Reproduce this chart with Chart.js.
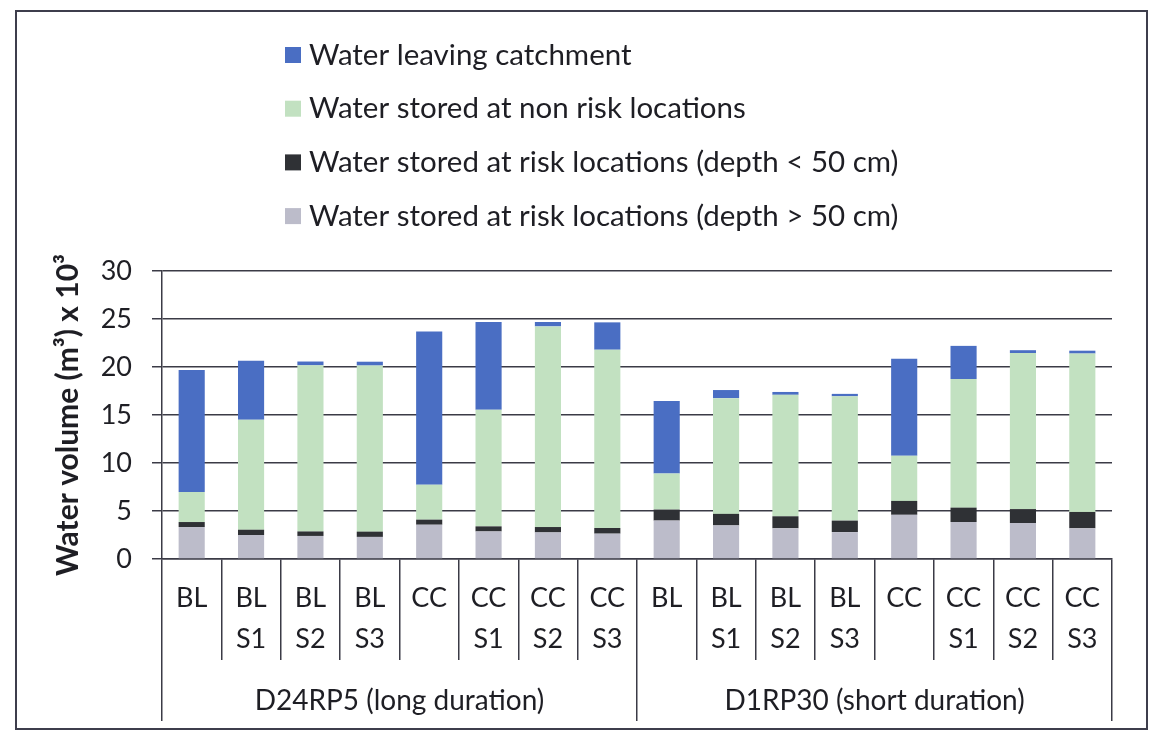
<!DOCTYPE html>
<html>
<head>
<meta charset="utf-8">
<script src="https://cdn.jsdelivr.net/npm/chart.js@4.4.1/dist/chart.umd.min.js"></script>
<style>
  html, body { margin: 0; padding: 0; background: #fff; }
  #wrap { position: relative; width: 1162px; height: 732px; }
  #frame {
    position: absolute; left: 15px; top: 10px; width: 1129px; height: 716px;
    border: 2px solid #3e3e4c; pointer-events: none;
  }
  canvas { position: absolute; left: 0; top: 0; }
</style>
</head>
<body>
<div id="wrap">
  <canvas id="grafico" width="1162" height="732"></canvas>
  <div id="frame"></div>
</div>
<script>
const cenarios = [
  ['BL'], ['BL', 'S1'], ['BL', 'S2'], ['BL', 'S3'],
  ['CC'], ['CC', 'S1'], ['CC', 'S2'], ['CC', 'S3'],
  ['BL'], ['BL', 'S1'], ['BL', 'S2'], ['BL', 'S3'],
  ['CC'], ['CC', 'S1'], ['CC', 'S2'], ['CC', 'S3']
];
const eventos = ['D24RP5 (long duration)', 'D1RP30 (short duration)'];

// volumes in m3 x 10^3, from the bottom of each bar upwards
const riscoProfundo = [3.33, 2.5, 2.4, 2.3, 3.57, 2.87, 2.77, 2.64, 4.0, 3.5, 3.2, 2.8, 4.6, 3.85, 3.75, 3.2];
const riscoRaso = [0.52, 0.55, 0.47, 0.55, 0.53, 0.53, 0.56, 0.59, 1.15, 1.2, 1.25, 1.2, 1.45, 1.5, 1.45, 1.7];
const semRisco = [3.13, 11.45, 17.3, 17.3, 3.64, 12.15, 20.9, 18.57, 3.75, 12.05, 12.65, 12.95, 4.7, 13.4, 16.25, 16.5];
const saindo = [12.7, 6.15, 0.4, 0.4, 15.96, 9.15, 0.46, 2.85, 7.55, 0.85, 0.3, 0.25, 10.1, 3.45, 0.3, 0.3];
const yTicks = [0, 5, 10, 15, 20, 25, 30];

const fonte = 'Lato, "Open Sans", sans-serif';
const corLinha = '#3b3b46';
const corTexto = '#1e1e24';

// legend drawn as a vertical list above the plot, top series first
const legendaLista = {
  id: 'legendaLista',
  afterDraw(chart) {
    const ctx = chart.ctx;
    const itens = chart.data.datasets.slice().reverse();
    ctx.save();
    ctx.font = '29.5px ' + fonte;
    ctx.textBaseline = 'middle';
    ctx.textAlign = 'left';
    itens.forEach((ds, i) => {
      const y = 55 + i * 53.7;
      ctx.fillStyle = ds.backgroundColor;
      ctx.fillRect(285, y - 8, 16, 16);
      ctx.fillStyle = corTexto;
      ctx.fillText(ds.label, 309, y);
    });
    ctx.restore();
  }
};

const ctxGrafico = document.getElementById('grafico').getContext('2d');
new Chart(ctxGrafico, {
  type: 'bar',
  data: {
    labels: cenarios,
    datasets: [
      { label: 'Water stored at risk locations (depth > 50 cm)', data: riscoProfundo, backgroundColor: '#bcbcca' },
      { label: 'Water stored at risk locations (depth < 50 cm)', data: riscoRaso, backgroundColor: '#2f3135' },
      { label: 'Water stored at non risk locations', data: semRisco, backgroundColor: '#c2e1c1' },
      { label: 'Water leaving catchment', data: saindo, backgroundColor: '#4a6ec3' }
    ]
  },
  options: {
    responsive: false,
    animation: false,
    barPercentage: 0.44,
    categoryPercentage: 1,
    layout: { padding: { top: 271, right: 50, bottom: 10, left: 0 } },
    plugins: {
      legend: { display: false },
      tooltip: { enabled: false }
    },
    scales: {
      x: {
        stacked: true,
        weight: 0,
        grid: { offset: true, drawOnChartArea: false, tickLength: 101, color: corLinha, lineWidth: 1.5 },
        border: { display: true, color: corLinha, width: 1.5 },
        ticks: {
          padding: -83,
          maxRotation: 0,
          autoSkip: false,
          color: corTexto,
          font: { family: fonte, size: 27, lineHeight: 1.55 }
        },
        afterFit(scale) { scale.height = 101; }
      },
      x2: {
        type: 'category',
        labels: eventos,
        position: 'bottom',
        weight: 1,
        grid: { offset: true, drawOnChartArea: false, tickLength: 61, color: corLinha, lineWidth: 1.5 },
        border: { display: false },
        ticks: {
          padding: -38,
          maxRotation: 0,
          color: corTexto,
          font: { family: fonte, size: 28, lineHeight: 1.3 }
        },
        afterFit(scale) { scale.height = 62; }
      },
      y: {
        stacked: true,
        min: 0,
        max: 30,
        afterBuildTicks(scale) { scale.ticks = yTicks.map(v => ({ value: v })); },
        grid: { color: corLinha, lineWidth: 1.5, tickLength: 10 },
        border: { display: true, color: corLinha, width: 1.5 },
        ticks: {
          padding: 20,
          color: corTexto,
          font: { family: fonte, size: 27 }
        },
        title: {
          display: true,
          text: 'Water volume (m³) x 10³',
          color: corTexto,
          font: { family: fonte, size: 30, weight: 'bold' },
          padding: { top: 50, bottom: 0 }
        },
        afterFit(scale) { scale.width = 162; }
      }
    }
  },
  plugins: [legendaLista]
});
</script>
</body>
</html>
